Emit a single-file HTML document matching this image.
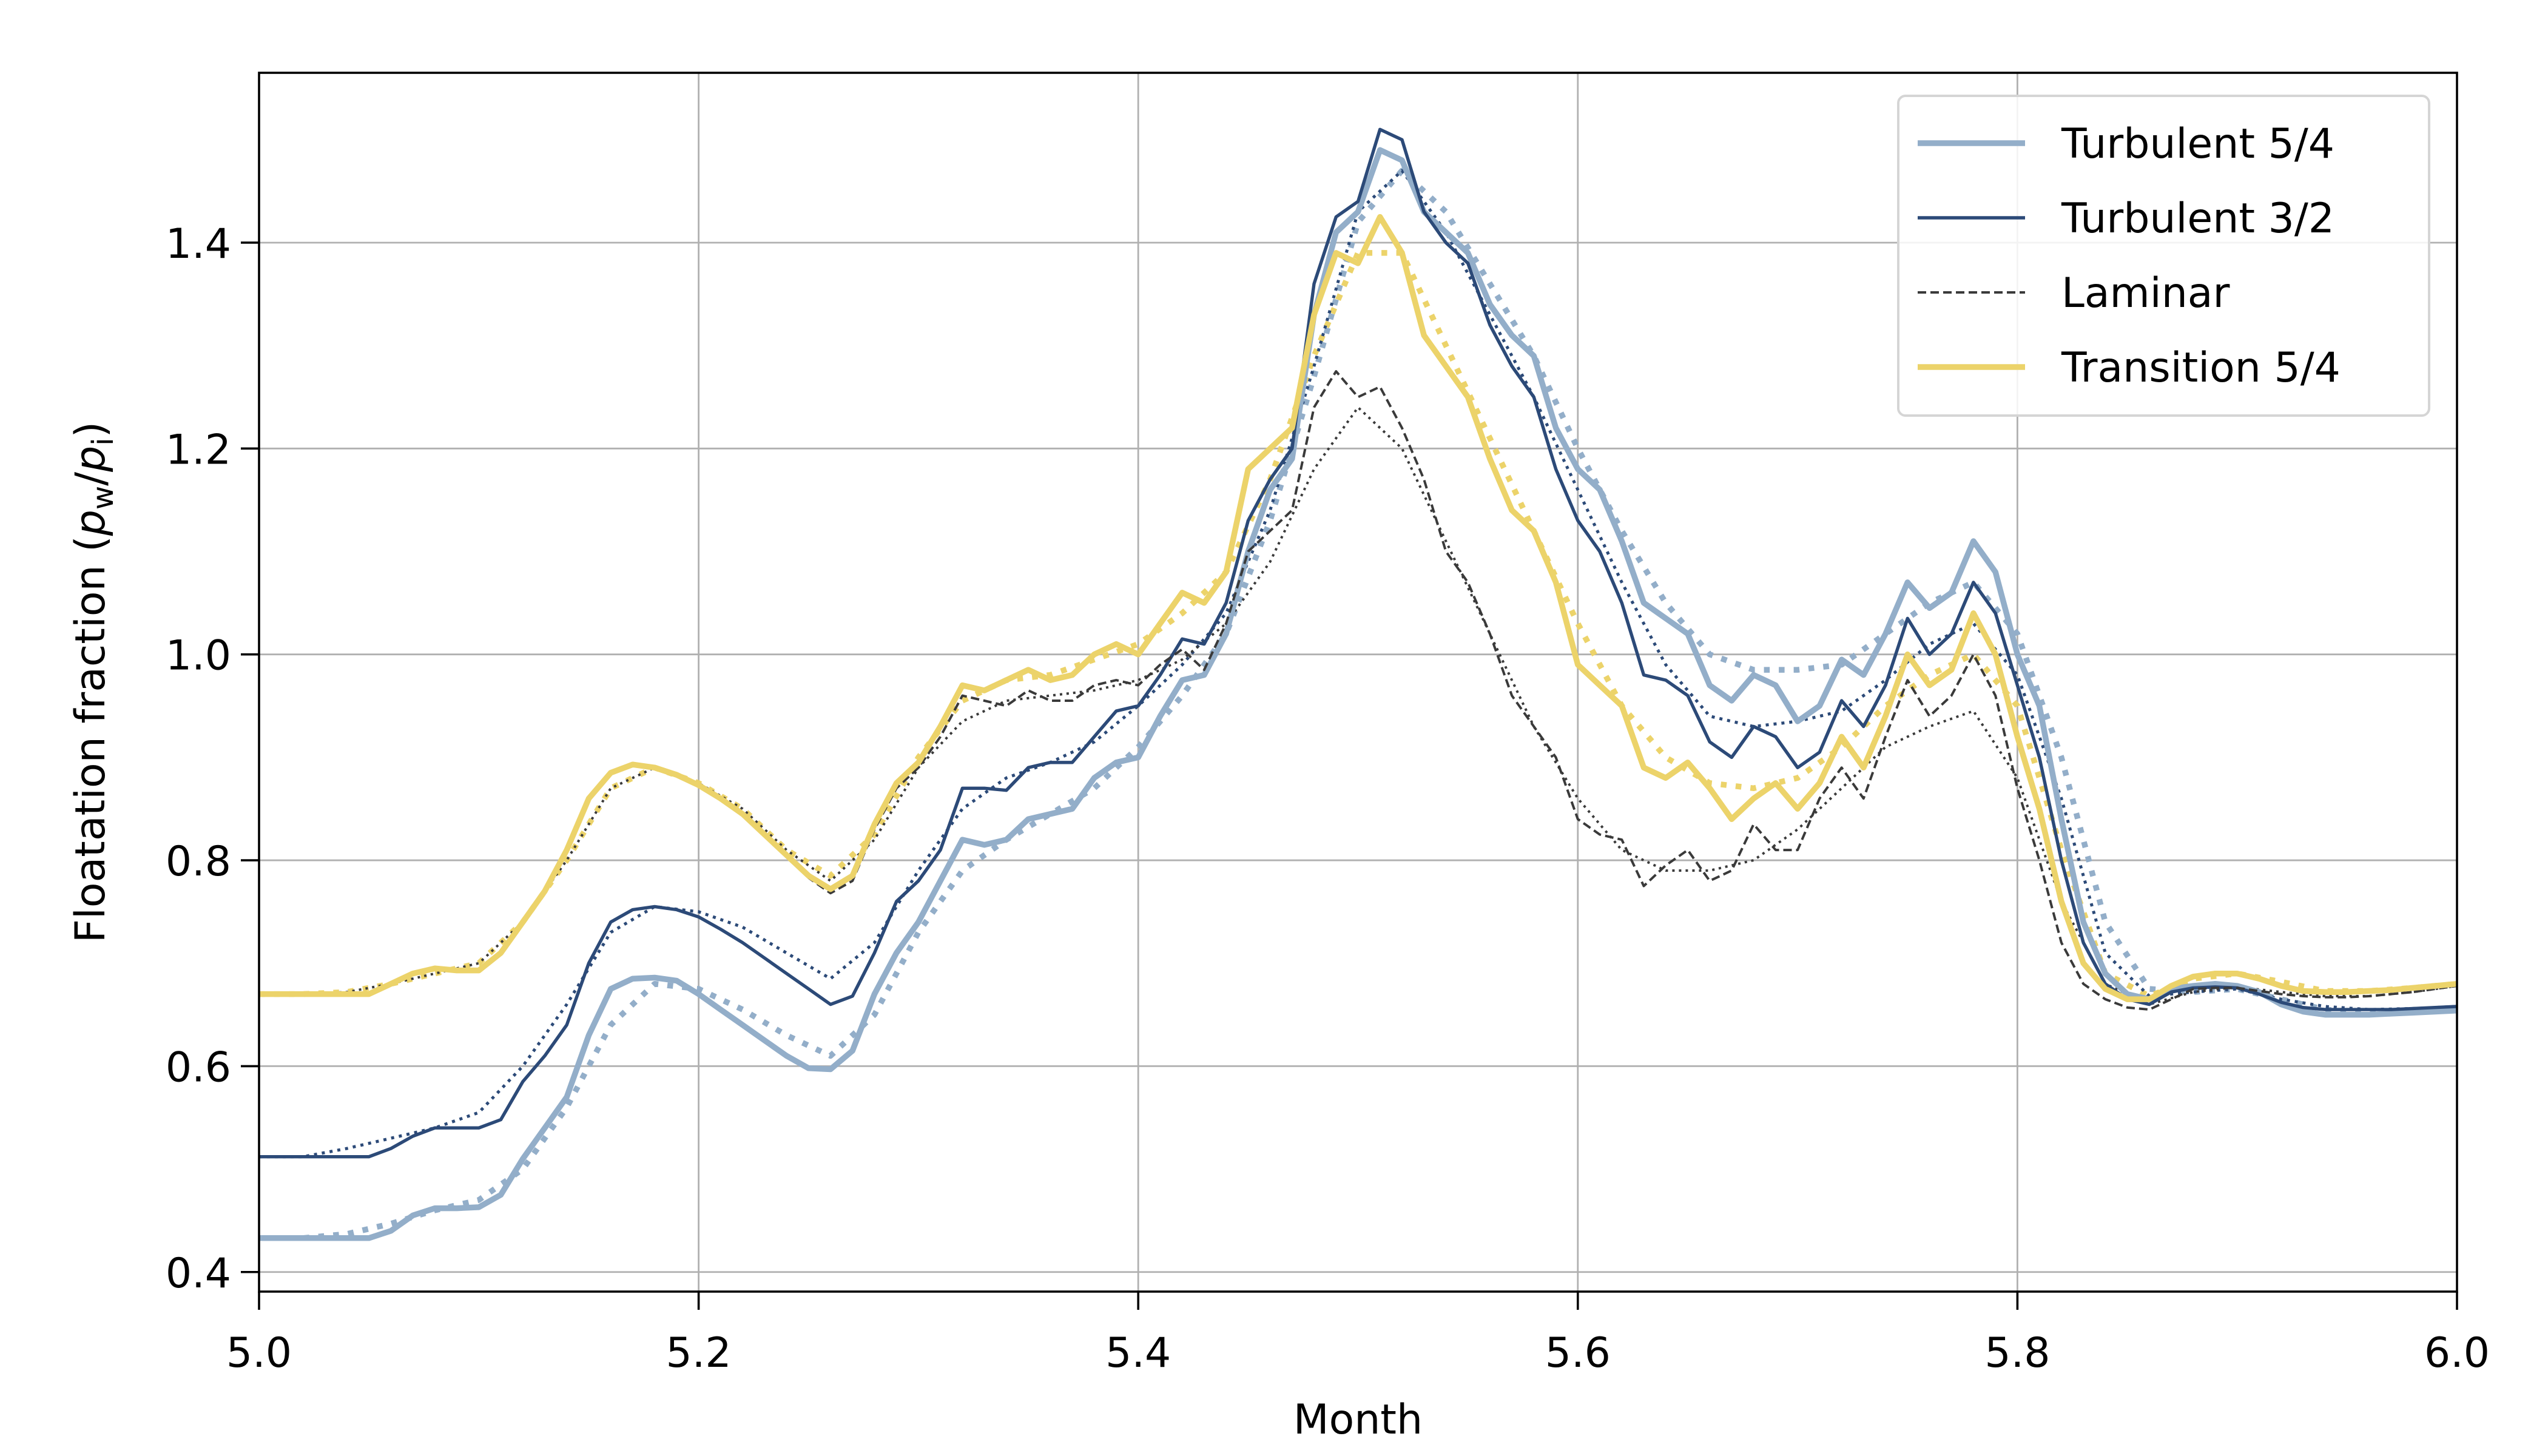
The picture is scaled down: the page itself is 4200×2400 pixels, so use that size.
<!DOCTYPE html>
<html><head><meta charset="utf-8"><style>
html,body{margin:0;padding:0;background:#fff}
svg{display:block}
text{font-family:"DejaVu Sans","Liberation Sans",sans-serif;fill:#000}
</style></head><body>
<svg id="chart" width="4200" height="2400" viewBox="0 0 4200 2400" xmlns="http://www.w3.org/2000/svg">
<rect width="4200" height="2400" fill="#fff"/>
<g id="grid"></g>
<g id="series"></g>
<g id="axes"></g>
<g id="legend"></g>
</svg>
<script>
const months = [];
for (let i = 0; i <= 100; i++) months.push(5 + i / 100);
const monthsCoarse = [];
for (let i = 0; i <= 50; i++) monthsCoarse.push(5 + i / 50);

const turb54 = [0.433,0.433,0.433,0.433,0.433,0.433,0.44,0.455,0.462,0.462,0.463,0.475,0.51,0.54,0.57,0.63,0.675,0.685,0.686,0.683,0.67,0.655,0.64,0.625,0.61,0.598,0.597,0.615,0.67,0.71,0.74,0.78,0.82,0.815,0.82,0.84,0.845,0.85,0.88,0.895,0.9,0.94,0.975,0.98,1.02,1.1,1.16,1.19,1.33,1.41,1.43,1.49,1.48,1.43,1.41,1.39,1.34,1.31,1.29,1.22,1.18,1.16,1.11,1.05,1.035,1.02,0.97,0.955,0.98,0.97,0.935,0.95,0.995,0.98,1.02,1.07,1.045,1.06,1.11,1.08,1.0,0.95,0.84,0.74,0.69,0.67,0.665,0.675,0.678,0.68,0.678,0.672,0.66,0.653,0.65,0.65,0.65,0.651,0.652,0.653,0.654];
const turb32 = [0.512,0.512,0.512,0.512,0.512,0.512,0.52,0.532,0.54,0.54,0.54,0.548,0.585,0.61,0.64,0.70,0.74,0.752,0.755,0.752,0.745,0.733,0.72,0.705,0.69,0.675,0.66,0.668,0.71,0.76,0.78,0.81,0.87,0.87,0.868,0.89,0.895,0.895,0.92,0.945,0.95,0.98,1.015,1.01,1.05,1.13,1.17,1.2,1.36,1.425,1.44,1.51,1.5,1.43,1.4,1.38,1.32,1.28,1.25,1.18,1.13,1.1,1.05,0.98,0.975,0.96,0.915,0.9,0.93,0.92,0.89,0.905,0.955,0.93,0.97,1.035,1.0,1.02,1.07,1.04,0.97,0.9,0.8,0.72,0.68,0.665,0.66,0.672,0.676,0.677,0.676,0.67,0.662,0.657,0.655,0.655,0.655,0.655,0.656,0.657,0.658];
const laminar = [0.67,0.67,0.67,0.67,0.67,0.67,0.68,0.69,0.695,0.693,0.693,0.71,0.74,0.77,0.81,0.86,0.885,0.893,0.89,0.883,0.873,0.86,0.845,0.825,0.805,0.783,0.768,0.78,0.83,0.87,0.89,0.92,0.96,0.955,0.95,0.965,0.955,0.955,0.97,0.975,0.97,0.99,1.005,0.985,1.03,1.1,1.12,1.14,1.24,1.275,1.25,1.26,1.22,1.17,1.1,1.07,1.02,0.96,0.93,0.9,0.84,0.825,0.82,0.775,0.795,0.81,0.78,0.79,0.835,0.81,0.81,0.86,0.89,0.86,0.92,0.975,0.94,0.96,1.0,0.96,0.87,0.8,0.72,0.68,0.665,0.657,0.655,0.665,0.675,0.676,0.676,0.673,0.67,0.668,0.667,0.667,0.668,0.67,0.672,0.675,0.678];
const trans54 = [0.67,0.67,0.67,0.67,0.67,0.67,0.68,0.69,0.695,0.693,0.693,0.71,0.74,0.77,0.81,0.86,0.885,0.893,0.89,0.883,0.873,0.86,0.845,0.825,0.805,0.785,0.772,0.785,0.835,0.875,0.895,0.93,0.97,0.965,0.975,0.985,0.975,0.98,1.0,1.01,1.0,1.03,1.06,1.05,1.08,1.18,1.2,1.22,1.33,1.39,1.38,1.425,1.39,1.31,1.28,1.25,1.19,1.14,1.12,1.07,0.99,0.97,0.95,0.89,0.88,0.895,0.87,0.84,0.86,0.875,0.85,0.875,0.92,0.89,0.94,1.0,0.97,0.985,1.04,1.0,0.92,0.85,0.76,0.7,0.675,0.665,0.665,0.678,0.687,0.69,0.69,0.685,0.678,0.673,0.672,0.672,0.673,0.674,0.676,0.678,0.68];

const turb54Smooth = [0.433,0.433,0.437,0.447,0.46,0.47,0.50,0.56,0.64,0.68,0.675,0.655,0.63,0.61,0.65,0.73,0.79,0.82,0.845,0.87,0.91,0.96,1.02,1.13,1.27,1.42,1.47,1.43,1.36,1.29,1.2,1.12,1.05,1.0,0.985,0.985,0.99,1.02,1.05,1.07,1.02,0.9,0.74,0.675,0.672,0.675,0.665,0.655,0.652,0.653,0.655];
const turb32Smooth = [0.512,0.512,0.52,0.53,0.54,0.555,0.60,0.66,0.73,0.755,0.75,0.735,0.71,0.685,0.72,0.79,0.85,0.88,0.895,0.915,0.95,0.99,1.04,1.14,1.28,1.43,1.47,1.41,1.33,1.25,1.16,1.07,0.99,0.94,0.93,0.935,0.945,0.975,1.01,1.03,0.98,0.86,0.71,0.668,0.672,0.675,0.665,0.658,0.655,0.656,0.658];
const laminarSmooth = [0.67,0.67,0.672,0.68,0.69,0.70,0.74,0.80,0.87,0.89,0.875,0.85,0.81,0.78,0.82,0.89,0.935,0.955,0.96,0.965,0.975,0.995,1.03,1.09,1.18,1.24,1.20,1.11,1.02,0.93,0.86,0.81,0.79,0.79,0.80,0.83,0.87,0.91,0.93,0.945,0.88,0.76,0.68,0.66,0.672,0.677,0.672,0.668,0.668,0.672,0.678];
const trans54Smooth = [0.67,0.67,0.672,0.68,0.69,0.70,0.74,0.80,0.87,0.89,0.875,0.85,0.81,0.785,0.825,0.90,0.955,0.975,0.98,0.995,1.01,1.04,1.08,1.17,1.29,1.39,1.39,1.30,1.21,1.12,1.03,0.95,0.9,0.875,0.87,0.88,0.91,0.95,0.98,1.0,0.95,0.81,0.69,0.668,0.685,0.69,0.682,0.673,0.673,0.676,0.68];

const xTicks = [5.0,5.2,5.4,5.6,5.8,6.0];
const xTickLabels = ["5.0","5.2","5.4","5.6","5.8","6.0"];
const yTicks = [0.4,0.6,0.8,1.0,1.2,1.4];
const yTickLabels = ["0.4","0.6","0.8","1.0","1.2","1.4"];

const L=427,R=4050,T=120,B=2129;
const X0=5,X1=6,Y0=0.381,Y1=1.565;
const xs=v=>L+(v-X0)/(X1-X0)*(R-L);
const ys=v=>B-(v-Y0)/(Y1-Y0)*(B-T);
const NS="http://www.w3.org/2000/svg";
const FS=68;
function mk(tag,parent){const e=document.createElementNS(NS,tag);parent.appendChild(e);return e;}

const grid=document.getElementById('grid');
xTicks.forEach(t=>{const l=mk('line',grid);l.setAttribute('x1',xs(t));l.setAttribute('x2',xs(t));l.setAttribute('y1',T);l.setAttribute('y2',B);l.setAttribute('stroke','#b0b0b0');l.setAttribute('stroke-width','2.8');

});
yTicks.forEach(t=>{const l=mk('line',grid);l.setAttribute('x1',L);l.setAttribute('x2',R);l.setAttribute('y1',ys(t));l.setAttribute('y2',ys(t));l.setAttribute('stroke','#b0b0b0');l.setAttribute('stroke-width','2.8');

});

const seriesG=document.getElementById('series');
function drawLine(xv,yv,color,w,dash,name){
  const p=mk('path',seriesG);
  p.setAttribute('d',yv.map((v,i)=>(i?'L':'M')+xs(xv[i]).toFixed(1)+','+ys(v).toFixed(1)).join(''));
  p.setAttribute('fill','none');p.setAttribute('stroke',color);p.setAttribute('stroke-width',w);
  p.setAttribute('stroke-linejoin','round');
  if(dash)p.setAttribute('stroke-dasharray',dash);
  
  
}
const cT54='#93aec9',cT32='#2c4a78',cLam='#3a3a3a',cTr='#ecd36a';
drawLine(monthsCoarse,turb54Smooth,cT54,9.5,'9.5 15','turbulent-54-smooth-line');
drawLine(monthsCoarse,trans54Smooth,cTr,9.5,'9.5 15','transition-54-smooth-line');
drawLine(monthsCoarse,turb32Smooth,cT32,5,'5 8','turbulent-32-smooth-line');
drawLine(monthsCoarse,laminarSmooth,cLam,4,'4 7','laminar-smooth-line');
drawLine(months,turb54,cT54,9.5,null,'turbulent-54-line');
drawLine(months,turb32,cT32,5.4,null,'turbulent-32-line');
drawLine(months,laminar,cLam,4,'14 7','laminar-line');
drawLine(months,trans54,cTr,9.5,null,'transition-54-line');

const axes=document.getElementById('axes');
const fr=mk('rect',axes);fr.setAttribute('x',L);fr.setAttribute('y',T);fr.setAttribute('width',R-L);fr.setAttribute('height',B-T);fr.setAttribute('fill','none');fr.setAttribute('stroke','#000');fr.setAttribute('stroke-width','3.6');


xTicks.forEach((t,i)=>{const l=mk('line',axes);l.setAttribute('x1',xs(t));l.setAttribute('x2',xs(t));l.setAttribute('y1',B);l.setAttribute('y2',B+30);l.setAttribute('stroke','#000');l.setAttribute('stroke-width','3.6');


const tx=mk('text',axes);tx.setAttribute('x',xs(t));tx.setAttribute('y',2253);tx.setAttribute('text-anchor','middle');tx.setAttribute('font-size',FS);tx.textContent=xTickLabels[i];

});
yTicks.forEach((t,i)=>{const l=mk('line',axes);l.setAttribute('x1',L-30);l.setAttribute('x2',L);l.setAttribute('y1',ys(t));l.setAttribute('y2',ys(t));l.setAttribute('stroke','#000');l.setAttribute('stroke-width','3.6');


const tx=mk('text',axes);tx.setAttribute('x',381);tx.setAttribute('y',ys(t)+25);tx.setAttribute('text-anchor','end');tx.setAttribute('font-size',FS);tx.textContent=yTickLabels[i];

});
const xt=mk('text',axes);xt.setAttribute('x',(L+R)/2);xt.setAttribute('y',2363);xt.setAttribute('text-anchor','middle');xt.setAttribute('font-size',FS);xt.textContent='Month';


const yt=mk('text',axes);yt.setAttribute('transform','translate(172,'+((T+B)/2)+') rotate(-90)');yt.setAttribute('text-anchor','middle');yt.setAttribute('font-size',FS);
yt.innerHTML='Floatation fraction (<tspan font-style="italic">p</tspan><tspan font-size="48" dy="14">w</tspan><tspan dy="-14">/</tspan><tspan font-style="italic">p</tspan><tspan font-size="48" dy="14">i</tspan><tspan dy="-14">)</tspan>';



const lg=document.getElementById('legend');
const box=mk('rect',lg);box.setAttribute('x',3129);box.setAttribute('y',158);box.setAttribute('width',875);box.setAttribute('height',527);box.setAttribute('rx',12);box.setAttribute('fill','#fff');box.setAttribute('fill-opacity','0.85');box.setAttribute('stroke','#d5d5d5');box.setAttribute('stroke-width','4');


const legendLabels=['Turbulent 5/4','Turbulent 3/2','Laminar','Transition 5/4'];
const legendColors=[cT54,cT32,cLam,cTr];
const legendWidths=[9.5,5.4,4,9.5];
const legendDash=[null,null,'14 7',null];
legendLabels.forEach((lab,i)=>{
  const y=236+i*123;
  const l=mk('line',lg);l.setAttribute('x1',3161);l.setAttribute('x2',3338);l.setAttribute('y1',y);l.setAttribute('y2',y);l.setAttribute('stroke',legendColors[i]);l.setAttribute('stroke-width',legendWidths[i]);
  if(legendDash[i])l.setAttribute('stroke-dasharray',legendDash[i]);
  
  
  const t=mk('text',lg);t.setAttribute('x',3398);t.setAttribute('y',y+24);t.setAttribute('font-size',FS);t.textContent=lab;
  
  
});
</script>
</body></html>
